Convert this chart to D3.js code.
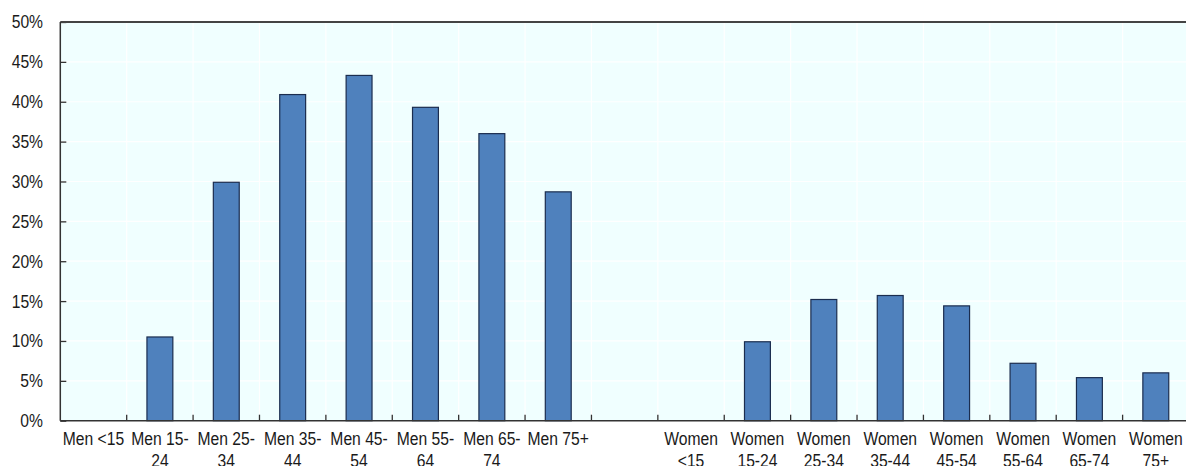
<!doctype html>
<html>
<head>
<meta charset="utf-8">
<script src="https://cdnjs.cloudflare.com/ajax/libs/d3/7.8.5/d3.min.js"></script>
<style>
body { margin: 0; background: #fff; }
svg { display: block; }
text {
  font-family: "Liberation Sans", Arial, sans-serif;
  font-size: 18px;
  fill: #1a1a1a;
}
.grid line { stroke: #ffffff; stroke-width: 1.2px; }
.bar { fill: #4f81bd; stroke: #1b2d4f; stroke-width: 1.2px; }
</style>
</head>
<body>
<svg id="chart" width="1186" height="466"></svg>
<script>
// age groups, the label breaks are as in the original chart
var menLabels = ["Men <15", "Men 15-\n24", "Men 25-\n34", "Men 35-\n44", "Men 45-\n54", "Men 55-\n64", "Men 65-\n74", "Men 75+"];
var womenLabels = ["Women\n<15", "Women\n15-24", "Women\n25-34", "Women\n35-44", "Women\n45-54", "Women\n55-64", "Women\n65-74", "Women\n75+"];
var menValues = [0, 10.5, 29.9, 40.9, 43.3, 39.3, 36.0, 28.7];
var womenValues = [0, 9.9, 15.2, 15.7, 14.4, 7.2, 5.4, 6.0];
var yTicks = [0, 5, 10, 15, 20, 25, 30, 35, 40, 45, 50];

var rows = menLabels.map((l, i) => ({label: l, value: menValues[i]}))
  .concat([{label: " ", value: null}])
  .concat(womenLabels.map((l, i) => ({label: l, value: womenValues[i]})));

// plot box (right edge runs past the picture, as in the original)
var pLeft = 60.3, pRight = 1189, pTop = 22, pBottom = 420.7;
var svg = d3.select("#chart");

var x = d3.scaleBand()
  .domain(rows.map(d => d.label))
  .range([pLeft, pRight])
  .paddingInner(0).paddingOuter(0);
var y = d3.scaleLinear().domain([0, 50]).range([pBottom, pTop]);
var bw = x.bandwidth() * 0.39;

// plot background
svg.append("rect")
  .attr("x", pLeft).attr("y", pTop)
  .attr("width", pRight - pLeft).attr("height", pBottom - pTop)
  .attr("fill", "#f0ffff");

// white grid
var grid = svg.append("g").attr("class", "grid");
grid.selectAll("line.h")
  .data(yTicks.slice(1, -1))
  .enter().append("line")
  .attr("x1", pLeft).attr("x2", pRight)
  .attr("y1", d => y(d)).attr("y2", d => y(d));
grid.selectAll("line.v")
  .data(rows.slice(1))
  .enter().append("line")
  .attr("x1", d => x(d.label)).attr("x2", d => x(d.label))
  .attr("y1", pTop).attr("y2", pBottom);

// bars
svg.append("g")
  .selectAll("rect")
  .data(rows.filter(d => d.value))
  .enter().append("rect")
  .attr("class", "bar")
  .attr("x", d => x(d.label) + (x.bandwidth() - bw) / 2)
  .attr("width", bw)
  .attr("y", d => y(d.value))
  .attr("height", d => y(0) - y(d.value));

// y axis
var yAxis = svg.append("g")
  .attr("transform", "translate(" + pLeft + ",0)")
  .call(d3.axisRight(y).tickValues(yTicks).tickSize(6).tickFormat(""));
yAxis.select(".domain").remove();
yAxis.selectAll(".tick line").attr("stroke", "#333").attr("stroke-width", 1.3);

svg.append("g")
  .selectAll("text")
  .data(yTicks)
  .enter().append("text")
  .attr("transform", d => "translate(43," + y(d) + ") scale(0.87,1)")
  .attr("text-anchor", "end")
  .attr("dy", "0.36em")
  .text(d => d + "%");

// x axis ticks at band boundaries, pointing up
svg.append("g")
  .selectAll("line")
  .data(rows.slice(1))
  .enter().append("line")
  .attr("x1", d => x(d.label)).attr("x2", d => x(d.label))
  .attr("y1", pBottom).attr("y2", pBottom - 6)
  .attr("stroke", "#333").attr("stroke-width", 1.3);

// frame lines
svg.append("line")
  .attr("x1", pLeft).attr("x2", pRight).attr("y1", pTop).attr("y2", pTop)
  .attr("stroke", "#444").attr("stroke-width", 2);
svg.append("line")
  .attr("x1", pLeft).attr("x2", pLeft).attr("y1", pTop).attr("y2", pBottom)
  .attr("stroke", "#333").attr("stroke-width", 1.5);
svg.append("line")
  .attr("x1", pLeft).attr("x2", pRight).attr("y1", pBottom).attr("y2", pBottom)
  .attr("stroke", "#333").attr("stroke-width", 1.5);

// category labels
var lab = svg.append("g")
  .selectAll("text")
  .data(rows)
  .enter().append("text")
  .attr("transform", d => "translate(" + (x(d.label) + x.bandwidth() / 2) + ",445) scale(0.87,1)")
  .attr("text-anchor", "middle");
lab.selectAll("tspan")
  .data(d => d.label.split("\n"))
  .enter().append("tspan")
  .attr("x", 0)
  .attr("y", (d, i) => i * 22)
  .text(d => d);
</script>
</body>
</html>
